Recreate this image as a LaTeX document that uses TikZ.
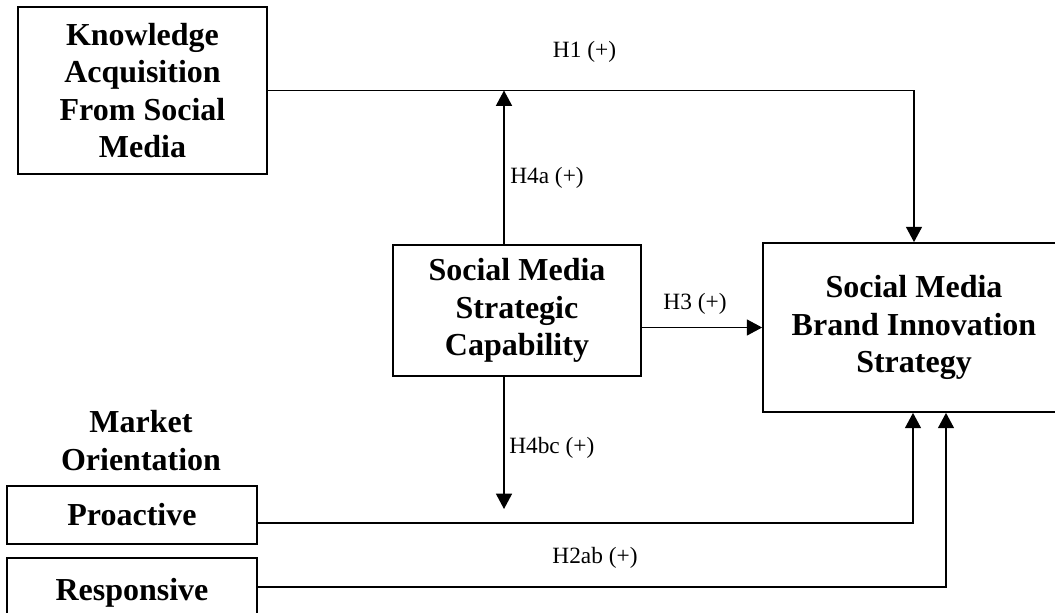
\documentclass[tikz,border=0pt]{standalone}
\usepackage{fontspec}
\setmainfont{Liberation Serif}
\usetikzlibrary{arrows.meta,calc}
\begin{document}
\begin{tikzpicture}[x=0.75pt,y=-0.75pt,
  boxnode/.style={draw, line width=1.3pt, inner sep=0pt, align=center,
    font=\bfseries\fontsize{24}{28}\selectfont},
  plaintext/.style={inner sep=0pt, align=center, font=\bfseries\fontsize{24}{28}\selectfont},
  hyplabel/.style={inner sep=0pt, font=\fontsize{17.5}{20}\selectfont},
  conn/.style={line width=1.1pt},
  arr/.style={conn, -{Triangle[length=11.5pt,width=12pt]}}
]
\useasboundingbox (0,0) rectangle (1055,613);
% boxes
\node[boxnode, minimum width=186.75pt, minimum height=125.25pt] (kas) at (142.5,90.5)
  {Knowledge\\Acquisition\\From Social\\Media};
\node[boxnode, minimum width=186pt, minimum height=98.25pt] (smsc) at (517,310.5)
  {Social Media\\Strategic\\Capability};
\node[boxnode, minimum width=226.5pt, minimum height=126.75pt] (bis) at (914,327.5)
  {Social Media\\Brand Innovation\\Strategy};
\node[plaintext] (mo) at (141,440.5) {Market\\Orientation};
\node[boxnode, minimum width=187.5pt, minimum height=43.5pt] (pro) at (132,515) {Proactive};
\node[boxnode, minimum width=187.5pt, minimum height=52.5pt] (res) at (132,593) {\raisebox{3pt}{Responsive}};
% coordinates
\coordinate (h4top) at ($(smsc.north)+(-13,0)$);
\coordinate (h4join) at (h4top |- kas.east);
\coordinate (h4bot) at ($(smsc.south)+(-13,0)$);
\coordinate (h4end) at (504,509);
\coordinate (proout) at ($(pro.east)+(0,8)$);
\coordinate (resout) at ($(res.east)+(0,-6)$);
\coordinate (bisin1) at ($(bis.south)+(-1,0)$);
\coordinate (bisin2) at ($(bis.south)+(32,0)$);
% connectors
\draw[arr] (kas.east) -| (bis.north);
\draw[arr] (h4top) -- (h4join);
\draw[arr] (smsc.east |- bis.west) -- (bis.west);
\draw[arr] (h4bot) -- (h4end);
\draw[arr] (proout) -| (bisin1);
\draw[arr] (resout) -| (bisin2);
% labels
\node[hyplabel] (lh1) at (584.5,52) {H1 (+)};
\node[hyplabel, anchor=west] (lh4a) at (510,178) {H4a (+)};
\node[hyplabel] (lh3) at (695,304) {H3 (+)};
\node[hyplabel, anchor=west] (lh4bc) at (509,448) {H4bc (+)};
\node[hyplabel] (lh2) at (595,558) {H2ab (+)};
\end{tikzpicture}
\end{document}
